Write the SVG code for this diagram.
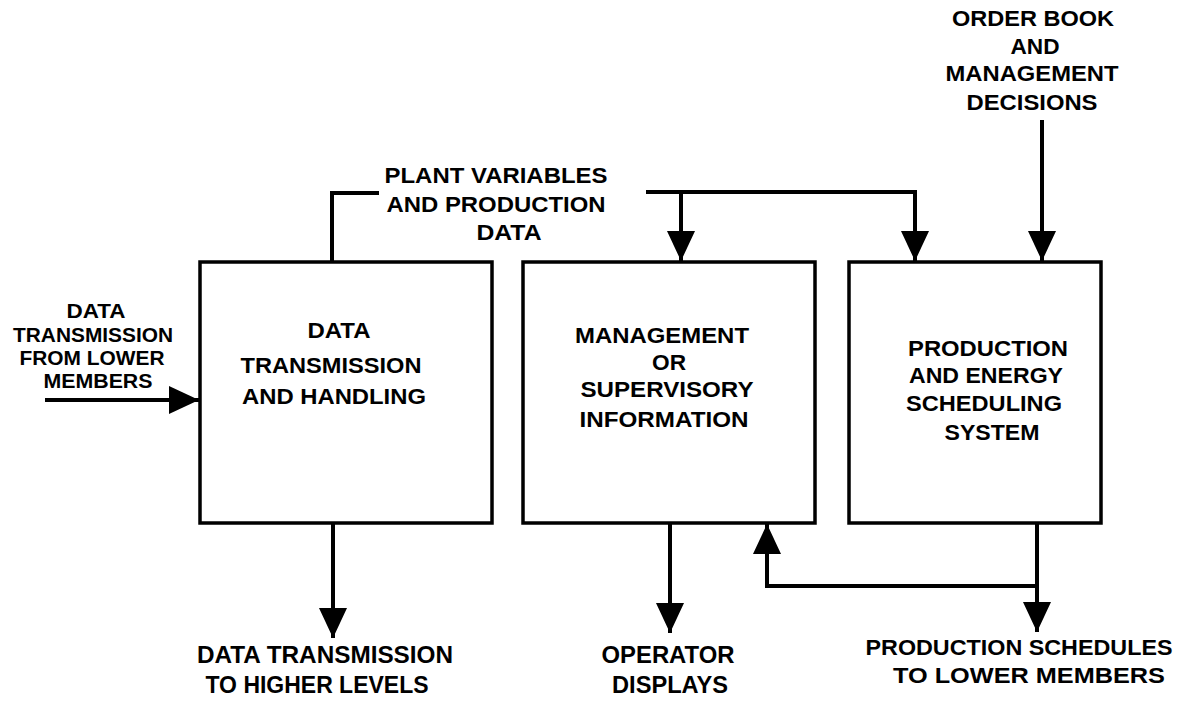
<svg xmlns="http://www.w3.org/2000/svg" width="1193" height="702" viewBox="0 0 1193 702">
  <style>
    .box { fill: #ffffff; stroke: #000000; stroke-width: 3.5; }
    .wire { fill: none; stroke: #000000; stroke-width: 4; }
    .arrow { marker-end: url(#head); }
    text { font-family: "Liberation Sans", Arial, sans-serif; font-weight: bold; font-size: 22px; fill: #000000; text-anchor: middle; }
    .small { font-size: 20px; }
    .big { font-size: 23px; }
  </style>
  <defs>
    <marker id="head" markerUnits="userSpaceOnUse" markerWidth="30" markerHeight="28" refX="30" refY="14" orient="auto">
      <path d="M0,0 L30,14 L0,28 Z" fill="#000000"/>
    </marker>
  </defs>

  <rect width="1193" height="702" fill="#ffffff"/>

  <!-- connectors -->
  <g id="connectors">
    <!-- plant variables tap from the data handling block -->
    <path class="wire" d="M332,262 V193 H379"/>
    <!-- plant variables feed to the two right blocks -->
    <path class="wire arrow" d="M646,192 H915 V261"/>
    <path class="wire arrow" d="M681,192 V261"/>
    <!-- order book input -->
    <path class="wire arrow" d="M1042,120 V261"/>
    <!-- data from lower members -->
    <path class="wire arrow" d="M45,400 H199"/>
    <!-- outputs at the bottom -->
    <path class="wire arrow" d="M333,523 V638"/>
    <path class="wire arrow" d="M670,523 V633"/>
    <path class="wire arrow" d="M1037,523 V632"/>
    <!-- schedule feedback to the supervisory block -->
    <path class="wire arrow" d="M1037,586 H767 V524"/>
  </g>

  <!-- blocks -->
  <g id="data-handling">
    <rect class="box" x="200" y="262" width="292" height="261"/>
    <text x="339" y="338" textLength="63" lengthAdjust="spacingAndGlyphs">DATA</text>
    <text x="331" y="373" textLength="181" lengthAdjust="spacingAndGlyphs">TRANSMISSION</text>
    <text x="334" y="404" textLength="184" lengthAdjust="spacingAndGlyphs">AND HANDLING</text>
  </g>

  <g id="supervisory-info">
    <rect class="box" x="523" y="262" width="292" height="261"/>
    <text x="662" y="343" textLength="174" lengthAdjust="spacingAndGlyphs">MANAGEMENT</text>
    <text x="669" y="370" textLength="34" lengthAdjust="spacingAndGlyphs">OR</text>
    <text x="667" y="397" textLength="173" lengthAdjust="spacingAndGlyphs">SUPERVISORY</text>
    <text x="664" y="427" textLength="169" lengthAdjust="spacingAndGlyphs">INFORMATION</text>
  </g>

  <g id="scheduling-system">
    <rect class="box" x="849" y="262" width="252" height="261"/>
    <text x="988" y="356" textLength="160" lengthAdjust="spacingAndGlyphs">PRODUCTION</text>
    <text x="986" y="383" textLength="154" lengthAdjust="spacingAndGlyphs">AND ENERGY</text>
    <text x="984" y="411" textLength="156" lengthAdjust="spacingAndGlyphs">SCHEDULING</text>
    <text x="992" y="440" textLength="95" lengthAdjust="spacingAndGlyphs">SYSTEM</text>
  </g>

  <!-- free labels -->
  <g id="label-lower-members">
    <text class="small" x="96" y="318" textLength="59" lengthAdjust="spacingAndGlyphs">DATA</text>
    <text class="small" x="93" y="342" textLength="160" lengthAdjust="spacingAndGlyphs">TRANSMISSION</text>
    <text class="small" x="92" y="365" textLength="145" lengthAdjust="spacingAndGlyphs">FROM LOWER</text>
    <text class="small" x="98" y="388" textLength="109" lengthAdjust="spacingAndGlyphs">MEMBERS</text>
  </g>

  <g id="label-plant-variables">
    <text x="496" y="183" textLength="223" lengthAdjust="spacingAndGlyphs">PLANT VARIABLES</text>
    <text x="496" y="212" textLength="219" lengthAdjust="spacingAndGlyphs">AND PRODUCTION</text>
    <text x="509" y="240" textLength="65" lengthAdjust="spacingAndGlyphs">DATA</text>
  </g>

  <g id="label-order-book">
    <text x="1033" y="26" textLength="162" lengthAdjust="spacingAndGlyphs">ORDER BOOK</text>
    <text x="1035" y="54" textLength="49" lengthAdjust="spacingAndGlyphs">AND</text>
    <text x="1032" y="81" textLength="173" lengthAdjust="spacingAndGlyphs">MANAGEMENT</text>
    <text x="1032" y="110" textLength="131" lengthAdjust="spacingAndGlyphs">DECISIONS</text>
  </g>

  <g id="label-higher-levels">
    <text class="big" x="325" y="663" textLength="256" lengthAdjust="spacingAndGlyphs">DATA TRANSMISSION</text>
    <text class="big" x="317" y="693" textLength="223" lengthAdjust="spacingAndGlyphs">TO HIGHER LEVELS</text>
  </g>

  <g id="label-operator-displays">
    <text class="big" x="668" y="663" textLength="133" lengthAdjust="spacingAndGlyphs">OPERATOR</text>
    <text class="big" x="670" y="693" textLength="116" lengthAdjust="spacingAndGlyphs">DISPLAYS</text>
  </g>

  <g id="label-production-schedules">
    <text x="1019" y="655" textLength="307" lengthAdjust="spacingAndGlyphs">PRODUCTION SCHEDULES</text>
    <text x="1029" y="683" textLength="272" lengthAdjust="spacingAndGlyphs">TO LOWER MEMBERS</text>
  </g>
</svg>
